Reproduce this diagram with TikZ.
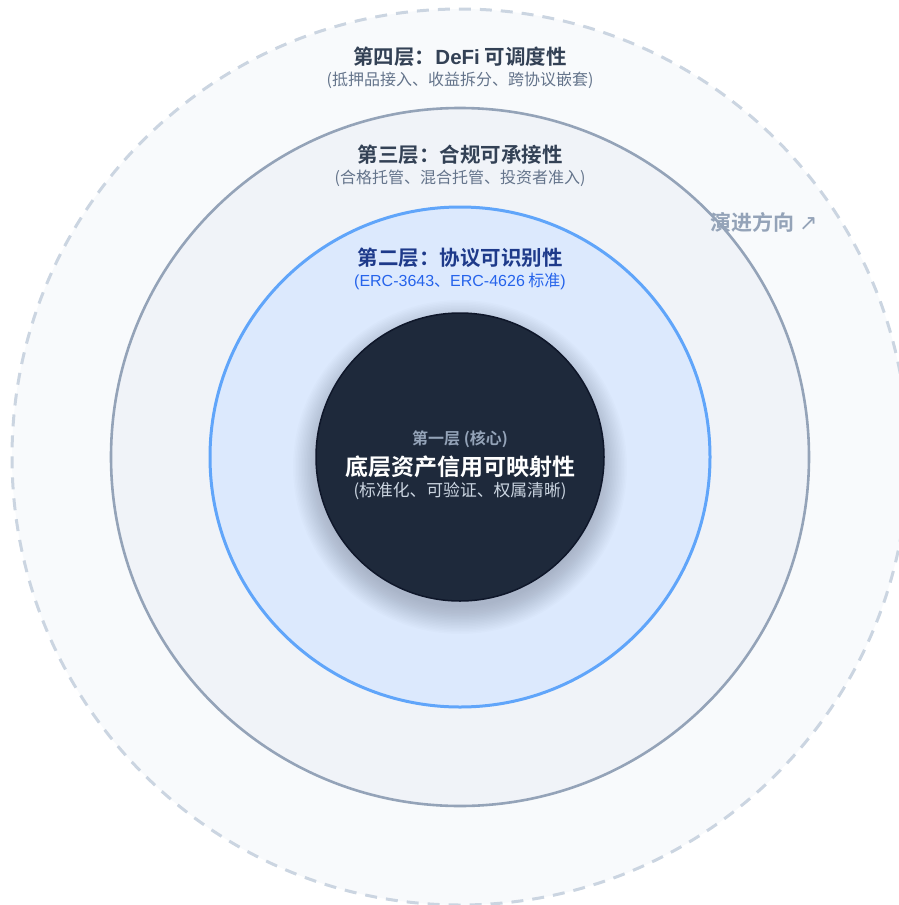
\documentclass[tikz,border=0pt]{standalone}
\usepackage{fontspec}
\setmainfont{Noto Sans CJK SC}[BoldFont={Noto Sans CJK SC Bold}]
\newfontfamily\symfont{DejaVu Sans}
\newfontfamily\latinfont{Liberation Sans}[BoldFont={Liberation Sans Bold}]
\definecolor{outerfill}{HTML}{F8FAFC}
\definecolor{outerline}{HTML}{CBD5E1}
\definecolor{thirdfill}{HTML}{F0F3F8}
\definecolor{thirdline}{HTML}{94A3B8}
\definecolor{secondfill}{HTML}{DCE9FD}
\definecolor{secondline}{HTML}{60A5FA}
\definecolor{corefill}{HTML}{1E293B}
\definecolor{coreline}{HTML}{0F172A}
\definecolor{titlegray}{HTML}{334155}
\definecolor{subgray}{HTML}{64748B}
\definecolor{titleblue}{HTML}{1E3A8A}
\definecolor{subblue}{HTML}{2563EB}
\definecolor{corelabel}{HTML}{94A3B8}
\definecolor{coresub}{HTML}{CBD5E1}
\definecolor{shadowcol}{HTML}{0F172A}
\tikzset{
  ring/.style={circle, inner sep=0pt, outer sep=0pt},
  title/.style={font=\bfseries\fontsize{20.5}{24}\selectfont, inner sep=0pt},
  subtitle/.style={font=\fontsize{16}{19}\selectfont, inner sep=0pt},
}
\begin{document}
\begin{tikzpicture}[x=1pt,y=-1pt]
\useasboundingbox (0,0) rectangle (899,905);
\node[ring, minimum size=896pt, fill=outerfill, draw=outerline, line width=3pt, dash pattern=on 12pt off 9pt] (layer4) at (460,457) {};
\node[ring, minimum size=698pt, fill=thirdfill, draw=thirdline, line width=2.6pt] (layer3) at (460,457) {};
\node[ring, minimum size=500pt, fill=secondfill, draw=secondline, line width=3pt] (layer2) at (460,457) {};
% soft shadow under the core
\foreach \r in {0,1.5,...,27} {
  \fill[shadowcol, opacity=0.013] (460,467) circle ({140+\r});
}
\node[ring, minimum size=288pt, fill=corefill, draw=coreline, line width=1.5pt] (layer1) at (460,457) {};

\node[title, text=titlegray] (t4) at (460,57) {第四层：{\latinfont\bfseries DeFi} 可调度性};
\node[subtitle, text=subgray] (s4) at (460,80) {(抵押品接入、收益拆分、跨协议嵌套)};
\node[title, text=titlegray] (t3) at (460,155) {第三层：合规可承接性};
\node[subtitle, text=subgray] (s3) at (460,178) {(合格托管、混合托管、投资者准入)};
\node[title, text=titleblue] (t2) at (460,258) {第二层：协议可识别性};
\node[subtitle, text=subblue] (s2) at (460,281) {{\latinfont (ERC-3643}、{\latinfont ERC-4626} 标准{\latinfont )}};

\node[font=\bfseries\fontsize{16}{19}\selectfont, text=corelabel, inner sep=0pt] (c1) at (460,439) {第一层 (核心)};
\node[font=\bfseries\fontsize{23}{27}\selectfont, text=white, inner sep=0pt] (c2) at (460,467) {底层资产信用可映射性};
\node[font=\fontsize{16.8}{19}\selectfont, text=coresub, inner sep=0pt] (c3) at (460,491) {(标准化、可验证、权属清晰)};

\node[font=\bfseries\fontsize{21}{24}\selectfont, text=corelabel, inner sep=0pt] (evo) at (764,222) {演进方向 {\symfont\mdseries\fontsize{22}{24}\selectfont ↗}};
\end{tikzpicture}
\end{document}
